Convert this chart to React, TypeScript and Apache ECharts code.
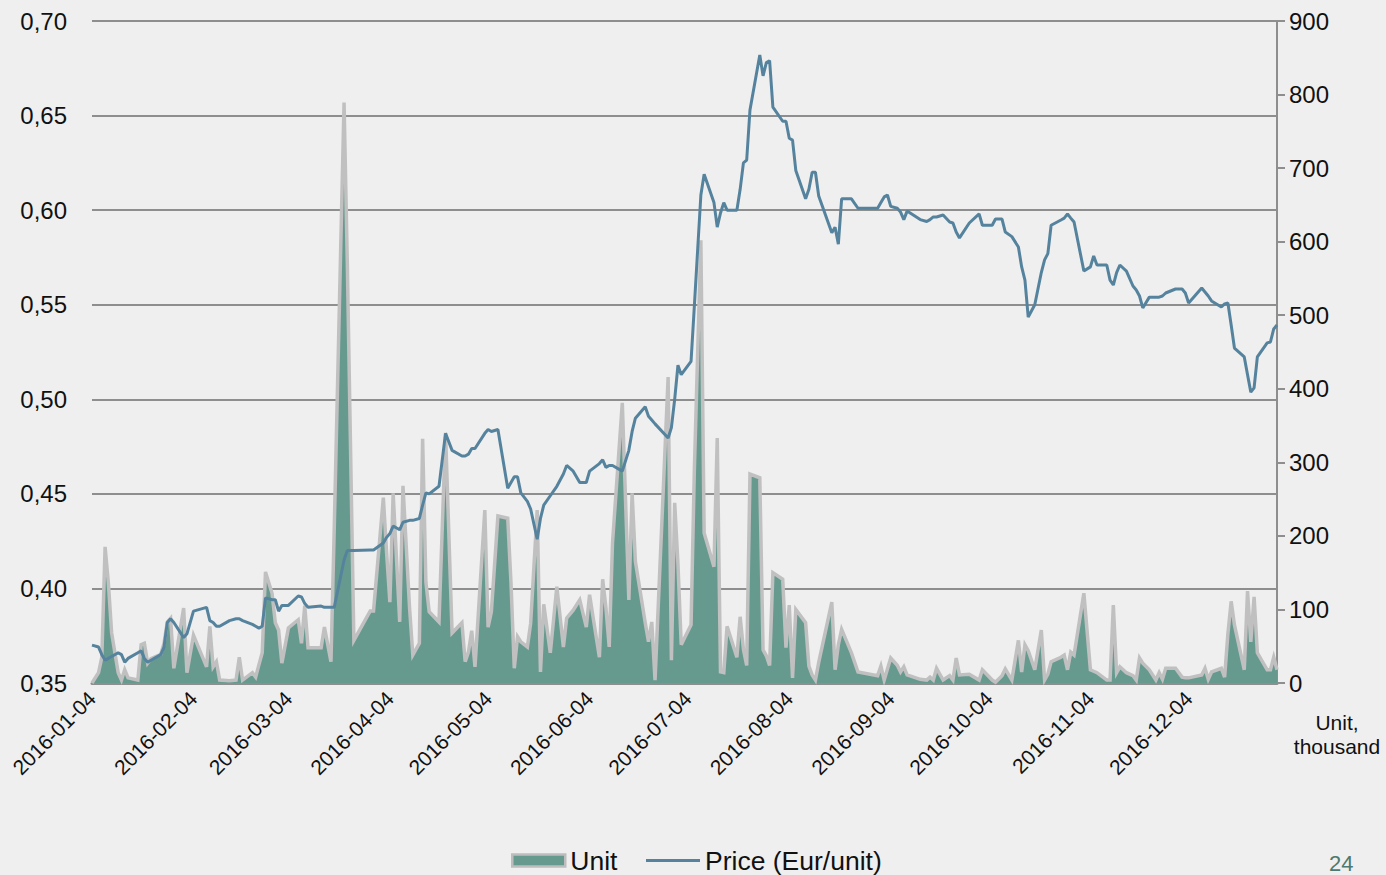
import React, { useEffect, useRef } from 'react';
import * as echarts from 'echarts';

const FONT = '"Liberation Sans", Arial, Helvetica, sans-serif';

const dates = [
  '2016-01-04', '2016-01-06', '2016-01-07', '2016-01-08', '2016-01-09', '2016-01-10', '2016-01-12', '2016-01-13',
  '2016-01-14', '2016-01-15', '2016-01-18', '2016-01-19', '2016-01-20', '2016-01-21', '2016-01-22', '2016-01-25',
  '2016-01-26', '2016-01-27', '2016-01-28', '2016-01-29', '2016-02-01', '2016-02-02', '2016-02-04', '2016-02-08',
  '2016-02-09', '2016-02-10', '2016-02-11', '2016-02-12', '2016-02-15', '2016-02-17', '2016-02-18', '2016-02-19',
  '2016-02-22', '2016-02-23', '2016-02-24', '2016-02-25', '2016-02-26', '2016-02-28', '2016-02-29', '2016-03-01',
  '2016-03-02', '2016-03-04', '2016-03-07', '2016-03-08', '2016-03-09', '2016-03-10', '2016-03-14', '2016-03-15',
  '2016-03-17', '2016-03-18', '2016-03-21', '2016-03-22', '2016-03-24', '2016-03-29', '2016-03-30', '2016-04-02',
  '2016-04-03', '2016-04-04', '2016-04-05', '2016-04-07', '2016-04-08', '2016-04-10', '2016-04-11', '2016-04-13',
  '2016-04-14', '2016-04-15', '2016-04-16', '2016-04-19', '2016-04-21', '2016-04-23', '2016-04-26', '2016-04-27',
  '2016-04-28', '2016-04-29', '2016-04-30', '2016-05-03', '2016-05-04', '2016-05-05', '2016-05-07', '2016-05-10',
  '2016-05-11', '2016-05-12', '2016-05-13', '2016-05-14', '2016-05-16', '2016-05-17', '2016-05-19', '2016-05-20',
  '2016-05-21', '2016-05-23', '2016-05-25', '2016-05-27', '2016-05-28', '2016-05-30', '2016-06-01', '2016-06-03',
  '2016-06-04', '2016-06-07', '2016-06-08', '2016-06-09', '2016-06-10', '2016-06-11', '2016-06-14', '2016-06-16',
  '2016-06-17', '2016-06-18', '2016-06-21', '2016-06-22', '2016-06-23', '2016-06-24', '2016-06-28', '2016-06-29',
  '2016-06-30', '2016-07-01', '2016-07-02', '2016-07-05', '2016-07-06', '2016-07-08', '2016-07-09', '2016-07-12',
  '2016-07-13', '2016-07-14', '2016-07-15', '2016-07-16', '2016-07-19', '2016-07-20', '2016-07-21', '2016-07-22',
  '2016-07-23', '2016-07-26', '2016-07-27', '2016-07-28', '2016-07-29', '2016-07-30', '2016-08-02', '2016-08-03',
  '2016-08-04', '2016-08-05', '2016-08-06', '2016-08-09', '2016-08-10', '2016-08-11', '2016-08-12', '2016-08-13',
  '2016-08-17', '2016-08-18', '2016-08-19', '2016-08-20', '2016-08-23', '2016-08-25', '2016-08-31', '2016-09-01',
  '2016-09-02', '2016-09-03', '2016-09-04', '2016-09-06', '2016-09-07', '2016-09-08', '2016-09-09', '2016-09-13',
  '2016-09-15', '2016-09-16', '2016-09-17', '2016-09-18', '2016-09-20', '2016-09-22', '2016-09-23', '2016-09-24',
  '2016-09-25', '2016-09-28', '2016-10-01', '2016-10-02', '2016-10-05', '2016-10-06', '2016-10-08', '2016-10-09',
  '2016-10-11', '2016-10-13', '2016-10-14', '2016-10-15', '2016-10-16', '2016-10-18', '2016-10-20', '2016-10-21',
  '2016-10-22', '2016-10-23', '2016-10-26', '2016-10-27', '2016-10-28', '2016-10-29', '2016-10-30', '2016-11-02',
  '2016-11-04', '2016-11-05', '2016-11-06', '2016-11-09', '2016-11-10', '2016-11-11', '2016-11-12', '2016-11-13',
  '2016-11-15', '2016-11-17', '2016-11-18', '2016-11-19', '2016-11-20', '2016-11-22', '2016-11-24', '2016-11-25',
  '2016-11-26', '2016-11-27', '2016-11-30', '2016-12-02', '2016-12-03', '2016-12-04', '2016-12-08', '2016-12-09',
  '2016-12-10', '2016-12-11', '2016-12-14', '2016-12-15', '2016-12-16', '2016-12-17', '2016-12-18', '2016-12-21',
  '2016-12-22', '2016-12-23', '2016-12-24', '2016-12-25', '2016-12-28', '2016-12-29', '2016-12-30', '2016-12-31',
];

// Unit, thousand (right axis)
const units = [
  0, 14, 35, 185, 136, 68, 14, 4,
  18, 7, 4, 52, 54, 27, 33, 39,
  54, 83, 88, 20, 102, 14, 65, 22,
  77, 22, 29, 4, 3, 4, 35, 4,
  14, 8, 25, 41, 151, 122, 82, 72,
  27, 75, 86, 54, 105, 48, 48, 76,
  29, 210, 789, 570, 58, 98, 98, 252,
  177, 110, 258, 83, 268, 103, 38, 54,
  332, 137, 97, 83, 340, 68, 82, 29,
  42, 71, 22, 235, 76, 97, 227, 224,
  136, 20, 63, 56, 49, 81, 235, 15,
  107, 41, 131, 49, 88, 99, 113, 76,
  120, 35, 141, 102, 49, 190, 381, 113,
  258, 165, 82, 56, 83, 4, 416, 31,
  245, 162, 52, 79, 288, 602, 204, 158,
  333, 15, 14, 77, 35, 90, 46, 24,
  284, 279, 45, 37, 24, 150, 141, 48,
  106, 7, 100, 82, 23, 11, 4, 28,
  110, 18, 52, 73, 41, 15, 10, 23,
  4, 19, 34, 24, 15, 22, 11, 5,
  4, 8, 4, 20, 4, 10, 4, 34,
  11, 12, 4, 18, 4, 1, 10, 19,
  4, 58, 15, 52, 44, 18, 72, 4,
  12, 29, 35, 38, 18, 42, 38, 122,
  18, 16, 14, 4, 4, 106, 14, 22,
  14, 10, 4, 34, 27, 18, 4, 14,
  5, 20, 20, 8, 7, 7, 11, 20,
  5, 15, 20, 8, 67, 111, 79, 18,
  125, 56, 117, 41, 18, 18, 35, 18,
];

// Price, Eur/unit (left axis)
const prices = [
  0.370, 0.369, 0.365, 0.362, 0.363, 0.364, 0.366, 0.365,
  0.361, 0.363, 0.366, 0.367, 0.363, 0.361, 0.362, 0.365,
  0.369, 0.382, 0.384, 0.382, 0.374, 0.376, 0.388, 0.390,
  0.383, 0.382, 0.380, 0.380, 0.383, 0.384, 0.384, 0.383,
  0.381, 0.380, 0.379, 0.380, 0.395, 0.394, 0.394, 0.388,
  0.391, 0.391, 0.396, 0.3955, 0.392, 0.390, 0.3907, 0.390,
  0.390, 0.390, 0.415, 0.420, 0.420, 0.4203, 0.4203, 0.424,
  0.427, 0.429, 0.433, 0.431, 0.435, 0.436, 0.436, 0.437,
  0.444, 0.4505, 0.450, 0.454, 0.482, 0.473, 0.470, 0.470,
  0.471, 0.474, 0.474, 0.482, 0.484, 0.483, 0.484, 0.453,
  0.456, 0.459, 0.459, 0.4505, 0.446, 0.442, 0.426, 0.437,
  0.444, 0.449, 0.454, 0.4605, 0.465, 0.462, 0.456, 0.456,
  0.462, 0.466, 0.468, 0.464, 0.465, 0.465, 0.462, 0.473,
  0.483, 0.490, 0.496, 0.491, 0.489, 0.487, 0.4795, 0.485,
  0.500, 0.518, 0.513, 0.520, 0.549, 0.608, 0.619, 0.604,
  0.591, 0.5985, 0.604, 0.600, 0.600, 0.611, 0.625, 0.6265,
  0.653, 0.682, 0.671, 0.678, 0.679, 0.6545, 0.647, 0.647,
  0.638, 0.637, 0.621, 0.606, 0.611, 0.620, 0.620, 0.6075,
  0.588, 0.591, 0.582, 0.606, 0.606, 0.601, 0.601, 0.604,
  0.607, 0.608, 0.602, 0.601, 0.599, 0.595, 0.5995, 0.595,
  0.594, 0.595, 0.5964, 0.5964, 0.5974, 0.5937, 0.5932, 0.5884,
  0.5853, 0.5932, 0.598, 0.592, 0.592, 0.5953, 0.5953, 0.5884,
  0.586, 0.5805, 0.570, 0.563, 0.5435, 0.550, 0.567, 0.5737,
  0.577, 0.592, 0.5948, 0.5958, 0.598, 0.5958, 0.5937, 0.5678,
  0.570, 0.5758, 0.571, 0.571, 0.563, 0.5604, 0.567, 0.571,
  0.5678, 0.5599, 0.5578, 0.5546, 0.5483, 0.554, 0.554, 0.554,
  0.5546, 0.5562, 0.5583, 0.5583, 0.5562, 0.5509, 0.5588, 0.5567,
  0.5546, 0.552, 0.5488, 0.5504, 0.5509, 0.5393, 0.5271, 0.5224,
  0.513, 0.5038, 0.506, 0.5224, 0.5298, 0.5303, 0.5372, 0.5393,
];

const tickDates = [
  '2016-01-04', '2016-02-04', '2016-03-04', '2016-04-04', '2016-05-04', '2016-06-04',
  '2016-07-04', '2016-08-04', '2016-09-04', '2016-10-04', '2016-11-04', '2016-12-04',
];

const axisStart = '2016-01-04';
const axisEnd = '2016-12-31';

function ts(s: string): number {
  const [y, m, d] = s.split('-').map(Number);
  return new Date(y, m - 1, d).getTime();
}

function fmtDate(v: number): string {
  const d = new Date(v);
  const p = (n: number) => (n < 10 ? '0' + n : '' + n);
  return d.getFullYear() + '-' + p(d.getMonth() + 1) + '-' + p(d.getDate());
}

const TEAL = '#669a8f';
const BORDER = '#c0c0c0';
const BLUE = '#55839e';
const GRID = '#8e8e8e';
const TXT = '#111111';

export default function App() {
  const ref = useRef<HTMLDivElement>(null);

  useEffect(() => {
    if (!ref.current) return;
    const chart = echarts.init(ref.current, null, { renderer: 'svg' });
    const tickValues = tickDates.map(ts);
    const option: any = {
      animation: false,
      backgroundColor: '#efefef',
      textStyle: { fontFamily: FONT },
      grid: { left: 92, right: 109, top: 21, bottom: 192, containLabel: false },
      xAxis: {
        type: 'value',
        min: ts(axisStart),
        max: ts(axisEnd),
        axisLine: { show: true, onZero: false, lineStyle: { color: GRID, width: 3 } },
        axisTick: { show: false, customValues: tickValues },
        splitLine: { show: false },
        axisLabel: {
          customValues: tickValues,
          rotate: 45,
          fontSize: 21,
          color: TXT,
          fontFamily: FONT,
          margin: 12,
          hideOverlap: false,
          formatter: (v: number) => fmtDate(v),
        },
      },
      yAxis: [
        {
          type: 'value',
          position: 'left',
          min: 0.35,
          max: 0.7,
          interval: 0.05,
          axisLine: { show: false },
          axisTick: { show: false },
          splitLine: { show: true, lineStyle: { color: GRID, width: 2 } },
          axisLabel: {
            fontSize: 24,
            color: TXT,
            fontFamily: FONT,
            margin: 25,
            formatter: (v: number) => v.toFixed(2).replace('.', ','),
          },
        },
        {
          type: 'value',
          position: 'right',
          min: 0,
          max: 900,
          interval: 100,
          axisLine: { show: true, lineStyle: { color: GRID, width: 2 } },
          axisTick: { show: true, inside: false, length: 8, lineStyle: { color: GRID, width: 2 } },
          splitLine: { show: false },
          axisLabel: { fontSize: 24, color: TXT, fontFamily: FONT, margin: 12 },
        },
      ],
      legend: [
        {
          data: [{ name: 'Unit', icon: 'rect' }],
          left: 506,
          top: 842,
          itemWidth: 53,
          itemHeight: 12,
          itemStyle: { color: TEAL, borderColor: '#bdbdbd', borderWidth: 2.5 },
          textStyle: { fontSize: 26.5, color: TXT, fontFamily: FONT },
        },
        {
          data: [{ name: 'Price (Eur/unit)', icon: 'rect' }],
          left: 641,
          top: 842,
          itemWidth: 54,
          itemHeight: 3,
          itemStyle: { color: BLUE, borderWidth: 0 },
          textStyle: { fontSize: 26.5, color: TXT, fontFamily: FONT },
        },
      ],
      series: [
        {
          name: 'Unit',
          type: 'line',
          yAxisIndex: 1,
          symbol: 'none',
          data: dates.map((d, i) => [ts(d), units[i]]),
          lineStyle: { color: BORDER, width: 3.5, join: 'miter' },
          itemStyle: { color: TEAL },
          areaStyle: { color: TEAL, opacity: 1 },
          z: 2,
        },
        {
          name: 'Price (Eur/unit)',
          type: 'line',
          yAxisIndex: 0,
          symbol: 'none',
          data: dates.map((d, i) => [ts(d), prices[i]]),
          lineStyle: { color: BLUE, width: 3 },
          itemStyle: { color: BLUE },
          z: 3,
        },
      ],
      graphic: [
        {
          type: 'text',
          x: 1337,
          y: 710,
          style: {
            text: 'Unit,\nthousand',
            textAlign: 'center',
            fontSize: 21,
            lineHeight: 24,
            fontFamily: FONT,
            fill: TXT,
          },
        },
        {
          type: 'text',
          x: 1329,
          y: 852,
          style: { text: '24', fontSize: 22, fontFamily: FONT, fill: '#4d7a70' },
        },
      ],
    };
    chart.setOption(option);
    return () => chart.dispose();
  }, []);

  return (
    <div
      ref={ref}
      style={{ position: 'absolute', left: 0, top: 0, width: 1386, height: 875, background: '#efefef' }}
    />
  );
}
